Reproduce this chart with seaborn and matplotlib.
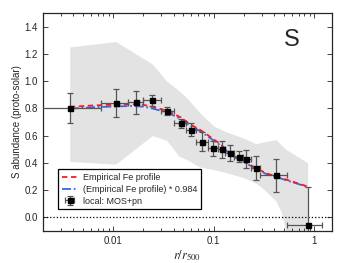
import numpy as np
import pandas as pd
import seaborn as sns
import matplotlib
matplotlib.use('Agg')
import matplotlib.pyplot as plt

# data
r_pts = [0.0037, 0.0106, 0.0168, 0.0246, 0.0347, 0.047, 0.059, 0.076, 0.099,
         0.12, 0.146, 0.177, 0.21, 0.263, 0.416, 0.86]
r_lo = [0.0019, 0.0075, 0.014, 0.020, 0.030, 0.040, 0.053, 0.067, 0.087,
        0.11, 0.13, 0.16, 0.195, 0.235, 0.29, 0.54]
r_hi = [0.0075, 0.014, 0.020, 0.030, 0.040, 0.053, 0.067, 0.087, 0.11,
        0.13, 0.16, 0.195, 0.235, 0.29, 0.54, 1.19]
s_ab = [0.80, 0.838, 0.843, 0.858, 0.777, 0.689, 0.642, 0.555, 0.507,
        0.498, 0.47, 0.443, 0.431, 0.36, 0.309, -0.057]
s_err = [0.11, 0.105, 0.085, 0.04, 0.03, 0.035, 0.047, 0.07, 0.055,
         0.06, 0.058, 0.04, 0.066, 0.087, 0.12, 0.28]

# empirical Fe profile
fe_r = [0.0037, 0.006, 0.01, 0.015, 0.02, 0.025, 0.035, 0.047, 0.059, 0.072,
        0.083, 0.114, 0.154, 0.2, 0.33, 0.5, 0.86]
fe_y = [0.81, 0.82, 0.826, 0.83, 0.825, 0.81, 0.78, 0.733, 0.68, 0.645,
        0.615, 0.542, 0.456, 0.41, 0.324, 0.282, 0.226]
scale = 0.984

# grey scatter band
band_r = [0.0037, 0.0106, 0.0245, 0.034, 0.045, 0.055, 0.072, 0.1, 0.13,
          0.2, 0.263, 0.3, 0.416, 0.47, 0.52, 0.86]
band_hi = [1.25, 1.29, 1.125, 1.0, 0.93, 0.87, 0.77, 0.67, 0.63,
           0.58, 0.54, 0.55, 0.57, 0.53, 0.50, 0.40]
band_lo = [0.41, 0.39, 0.60, 0.565, 0.45, 0.42, 0.37, 0.35, 0.33,
           0.29, 0.25, 0.22, 0.12, 0.04, -0.1, -0.1]

sns.set_style('ticks')
plt.rcParams['font.family'] = ['Liberation Sans', 'DejaVu Sans']
plt.rcParams['mathtext.fontset'] = 'stix'

fig = plt.figure(figsize=(3.49, 2.63), dpi=100)
ax = fig.add_axes([0.123, 0.122, 0.828, 0.829])

ax.fill_between(band_r, band_lo, band_hi, color='#e3e3e3', lw=0, zorder=0)
ax.axhline(0, color='black', ls=':', lw=0.9, zorder=1)

fe = pd.DataFrame({'r': fe_r, 'y': fe_y})
fe['y2'] = fe['y'] * scale
sns.lineplot(data=fe, x='r', y='y2', ax=ax, color='#3a66e6', lw=1.3,
             ls=(0, (5, 1.5, 1, 1.5)), label='(Empirical Fe profile) * 0.984', zorder=2)
sns.lineplot(data=fe, x='r', y='y', ax=ax, color='#ff1a1a', lw=1.3,
             ls=(0, (3, 2)), label='Empirical Fe profile', zorder=3)

xerr = [np.array(r_pts) - np.array(r_lo), np.array(r_hi) - np.array(r_pts)]
ax.errorbar(r_pts, s_ab, yerr=s_err, xerr=xerr, fmt='s', color='black', ms=3.6,
            ecolor='#555555', elinewidth=0.9, capsize=2, capthick=0.9,
            label='local: MOS+pn', zorder=4)

ax.set_xscale('log')
ax.set_xlim(0.002, 1.5)
ax.set_ylim(-0.1, 1.5)
ax.set_yticks(np.arange(0, 1.41, 0.2))
ax.xaxis.set_major_formatter(matplotlib.ticker.FuncFormatter(lambda v, p: f'{v:g}'))
ax.tick_params(which='both', direction='in', top=True, right=True, labelsize=7, width=0.6)
ax.tick_params(which='major', length=3.5)
ax.tick_params(which='minor', length=2)
for s in ax.spines.values():
    s.set_linewidth(0.9)

ax.set_xlabel('$r/r_{500}$', fontsize=9, labelpad=2)
ax.set_ylabel('S abundance (proto-solar)', fontsize=7, labelpad=2)
ax.text(0.86, 0.876, 'S', transform=ax.transAxes, fontsize=17, ha='center', va='center')

h, l = ax.get_legend_handles_labels()
order = [1, 0, 2]
leg = ax.legend([h[i] for i in order], [l[i] for i in order], loc='lower left',
                bbox_to_anchor=(0.052, 0.1), borderaxespad=0, fontsize=6.5,
                frameon=True, fancybox=False, edgecolor='black', framealpha=1,
                handlelength=1.8, handletextpad=0.6, borderpad=0.4, labelspacing=0.3)
leg.get_frame().set_linewidth(0.9)

fig.savefig('out.png', dpi=100)
